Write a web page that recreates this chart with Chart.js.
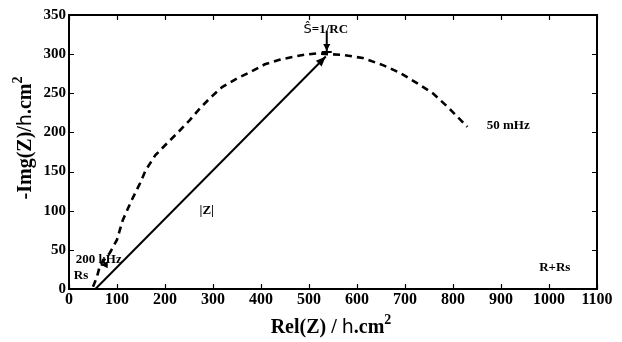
<!DOCTYPE html>
<html>
<head>
<meta charset="utf-8">
<script src="https://cdn.jsdelivr.net/npm/chart.js@4.4.1/dist/chart.umd.min.js"></script>
<style>
  body { margin: 0; background: #fff; }
  #wrap { width: 622px; height: 342px; }
</style>
</head>
<body>
<div id="wrap"><canvas id="chart" width="622" height="342"></canvas></div>
<script>
// Nyquist curve (dashed)
const curveRe = [50, 58, 65, 85, 100, 112, 131, 148, 160, 180, 204, 227, 252, 273, 294, 319, 350, 377, 408, 440, 487, 517, 540, 571, 612, 654, 690, 725, 758, 790, 830];
const curveIm = [3, 15, 31, 46, 63, 88, 114, 135, 152, 171, 186, 200, 216, 231, 244, 258, 269, 277, 287, 293, 299, 301, 300, 299, 295, 286, 276, 263, 250, 232, 207];

// |Z| vector (solid arrow)
const modRe = [55, 535];
const modIm = [0, 297];

// small pointer arrows: [fromRe, fromIm, toRe, toIm]
const peakArrow = [537, 330, 537, 304];
const hfArrow = [80, 31, 66, 31];

const xTicks = [0, 100, 200, 300, 400, 500, 600, 700, 800, 900, 1000, 1100];
const yTicks = [0, 50, 100, 150, 200, 250, 300, 350];

const notes = [
  { text: "|Z|", re: 287, im: 100 },
  { text: "50 mHz", re: 915, im: 209 },
  { text: "R+Rs", re: 1012, im: 27 },
  { text: "200 kHz", re: 62, im: 37 },
  { text: "Rs", re: 25, im: 17 },
];

const serifB = (s) => "bold " + s + "px 'Liberation Serif', 'Times New Roman', serif";
const sans = (s) => s + "px 'DejaVu Sans', sans-serif";

function arrowHead(ctx, x0, y0, x1, y1, len, half) {
  const a = Math.atan2(y1 - y0, x1 - x0);
  ctx.beginPath();
  ctx.moveTo(x1, y1);
  ctx.lineTo(x1 - len * Math.cos(a) + half * Math.sin(a), y1 - len * Math.sin(a) - half * Math.cos(a));
  ctx.lineTo(x1 - len * Math.cos(a) - half * Math.sin(a), y1 - len * Math.sin(a) + half * Math.cos(a));
  ctx.closePath();
  ctx.fill();
}

// draw a run of text pieces, each with its own font and baseline shift
function drawRuns(ctx, runs, cx, baseY) {
  let total = 0;
  runs.forEach(r => { ctx.font = r.font; r.w = ctx.measureText(r.t).width; total += r.w; });
  let x = cx - total / 2;
  ctx.textAlign = "left";
  ctx.textBaseline = "alphabetic";
  runs.forEach(r => { ctx.font = r.font; ctx.fillText(r.t, x, baseY - (r.dy || 0)); x += r.w; });
}

const decor = {
  id: "decor",
  afterDraw(chart) {
    const ctx = chart.ctx;
    const xs = chart.scales.x, ys = chart.scales.y;
    const a = chart.chartArea;
    ctx.save();
    ctx.strokeStyle = "#000";
    ctx.fillStyle = "#000";

    // frame top/right
    ctx.lineWidth = 2;
    ctx.beginPath();
    ctx.moveTo(a.left, a.top); ctx.lineTo(a.right, a.top); ctx.lineTo(a.right, a.bottom);
    ctx.stroke();

    // inside ticks on all four sides
    ctx.lineWidth = 1.2;
    ctx.beginPath();
    xTicks.forEach(v => {
      const px = Math.round(xs.getPixelForValue(v)) + 0.5;
      ctx.moveTo(px, a.bottom); ctx.lineTo(px, a.bottom - 5);
      ctx.moveTo(px, a.top); ctx.lineTo(px, a.top + 5);
    });
    yTicks.forEach(v => {
      const py = Math.round(ys.getPixelForValue(v)) + 0.5;
      ctx.moveTo(a.left, py); ctx.lineTo(a.left + 5, py);
      ctx.moveTo(a.right, py); ctx.lineTo(a.right - 5, py);
    });
    ctx.stroke();

    // arrowhead on |Z|
    arrowHead(ctx, xs.getPixelForValue(modRe[0]), ys.getPixelForValue(modIm[0]),
      xs.getPixelForValue(modRe[1]), ys.getPixelForValue(modIm[1]), 10, 4);

    // pointer arrows
    [peakArrow, hfArrow].forEach(p => {
      const x0 = xs.getPixelForValue(p[0]), y0 = ys.getPixelForValue(p[1]);
      const x1 = xs.getPixelForValue(p[2]), y1 = ys.getPixelForValue(p[3]);
      ctx.lineWidth = 2;
      ctx.beginPath(); ctx.moveTo(x0, y0); ctx.lineTo(x1, y1); ctx.stroke();
      arrowHead(ctx, x0, y0, x1, y1, 7, 3.5);
    });
    // small bar under the peak arrow
    const pbx = xs.getPixelForValue(peakArrow[2]), pby = ys.getPixelForValue(peakArrow[3]);
    ctx.lineWidth = 2;
    ctx.beginPath(); ctx.moveTo(pbx - 5, pby + 1); ctx.lineTo(pbx + 5, pby + 1); ctx.stroke();

    // annotations
    ctx.textBaseline = "middle";
    ctx.textAlign = "center";
    ctx.font = serifB(13);
    notes.forEach(n => ctx.fillText(n.text, xs.getPixelForValue(n.re), ys.getPixelForValue(n.im)));
    drawRuns(ctx, [
      { t: "Ŝ", font: sans(13) },
      { t: "=1/RC", font: serifB(13) },
    ], xs.getPixelForValue(535), ys.getPixelForValue(333) + 5);

    // axis titles
    const titleRuns = (first) => [
      { t: first, font: serifB(20) },
      { t: "h", font: sans(19) },
      { t: ".cm", font: serifB(20) },
      { t: "2", font: serifB(14), dy: 9 },
    ];
    drawRuns(ctx, titleRuns("Rel(Z) / "), 331, 333);
    ctx.save();
    ctx.translate(31, 138);
    ctx.rotate(-Math.PI / 2);
    drawRuns(ctx, titleRuns("-Img(Z)/"), 0, 0);
    ctx.restore();

    ctx.restore();
  },
};

new Chart(document.getElementById("chart"), {
  type: "line",
  data: {
    datasets: [
      {
        label: "Nyquist",
        data: curveRe.map((r, i) => ({ x: r, y: curveIm[i] })),
        borderColor: "#000",
        borderWidth: 2.6,
        borderDash: [7, 5],
        pointRadius: 0,
        tension: 0,
        fill: false,
      },
      {
        label: "|Z|",
        data: modRe.map((r, i) => ({ x: r, y: modIm[i] })),
        borderColor: "#000",
        borderWidth: 2,
        pointRadius: 0,
        fill: false,
      },
    ],
  },
  options: {
    responsive: false,
    animation: false,
    layout: { padding: { top: 15, right: 25, left: 0, bottom: 0 } },
    plugins: { legend: { display: false }, tooltip: { enabled: false } },
    scales: {
      x: {
        type: "linear",
        min: 0,
        max: 1100,
        afterBuildTicks: (s) => { s.ticks = xTicks.map(v => ({ value: v })); },
        afterFit: (s) => { s.height = 53; },
        grid: { display: false, tickLength: 0 },
        border: { display: true, color: "#000", width: 2 },
        ticks: {
          color: "#000",
          font: { family: "'Liberation Serif'", weight: "bold", size: 16 },
          padding: 1,
          autoSkip: false,
          maxRotation: 0,
          callback: (v) => String(v),
        },
      },
      y: {
        type: "linear",
        min: 0,
        max: 350,
        afterBuildTicks: (s) => { s.ticks = yTicks.map(v => ({ value: v })); },
        afterFit: (s) => { s.width = 69; },
        grid: { display: false, tickLength: 0 },
        border: { display: true, color: "#000", width: 2 },
        ticks: {
          color: "#000",
          font: { family: "'Liberation Serif'", weight: "bold", size: 15 },
          padding: 3,
          callback: (v) => String(v),
        },
      },
    },
  },
  plugins: [decor],
});
</script>
</body>
</html>
